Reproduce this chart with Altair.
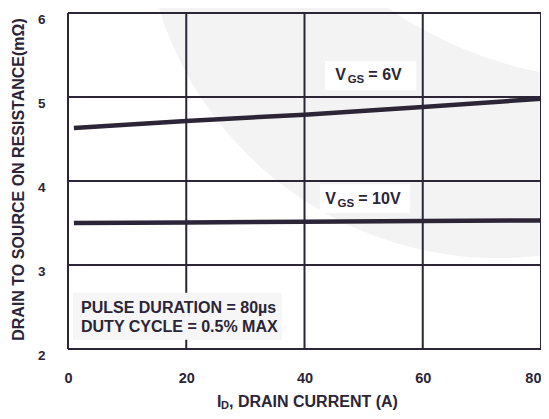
import altair as alt
import pandas as pd

# ---- data ----
current_a = [1, 20, 40, 60, 80]
rds_vgs6 = [4.63, 4.715, 4.79, 4.88, 4.98]
rds_vgs10 = [3.50, 3.505, 3.515, 3.525, 3.53]
x_ticks = [0, 20, 40, 60, 80]
y_ticks = [2, 3, 4, 5, 6]
y_title = "DRAIN TO SOURCE ON RESISTANCE(mΩ)"

INK = "#2b2537"
FONT = "Liberation Sans"
W, H = 473, 336

df = pd.DataFrame({
    "I": current_a + current_a,
    "R": rds_vgs6 + rds_vgs10,
    "s": ["6V"] * len(current_a) + ["10V"] * len(current_a),
})

xs = alt.Scale(domain=[0, 80], nice=False, zero=False)
ys = alt.Scale(domain=[2, 6], nice=False, zero=False)

one = pd.DataFrame({"a": [0]})

xaxis = alt.Axis(values=x_ticks, title=None, grid=False, domain=False, ticks=False,
                 tickSize=0, labelPadding=22, labelFont=FONT, labelFontSize=14.5,
                 labelFontWeight="bold", labelColor=INK, labelBaseline="top",
                 labelFlush=False, format="d", zindex=1,
                 labelAlign={"condition": {"test": "datum.value == 80", "value": "right"},
                             "value": "center"})
yaxis = alt.Axis(values=y_ticks, title=y_title, grid=False, domain=False, ticks=False,
                 tickSize=0, labelPadding=23, labelFont=FONT, labelFontSize=13.5,
                 labelFontWeight="bold", labelColor=INK, labelFlush=False, format="d",
                 labelBaseline="top", labelOffset=-1,
                 titleFont=FONT, titleFontSize=16, titleFontWeight="bold",
                 titleColor=INK, titleAngle=270, titleX=-50, titleY=166,
                 titleAlign="center", titleBaseline="middle", zindex=1)


def X(f):
    return alt.X(f, scale=xs, axis=xaxis, title=None)


def Y(f):
    return alt.Y(f, scale=ys, axis=yaxis, title=y_title)


# faint watermark crescent (grey disc, then white disc)
wm_grey = alt.Chart(one).mark_circle(size=710 * 710, color="#f3f3f4", opacity=1).encode(
    x=alt.value(430), y=alt.value(-110))
wm_white = alt.Chart(one).mark_circle(size=820 * 820, color="#ffffff", opacity=1).encode(
    x=alt.value(552), y=alt.value(-343))

grid_x = alt.Chart(pd.DataFrame({"v": x_ticks})).mark_rule(color=INK, strokeWidth=2).encode(
    x=X("v:Q"))
grid_y = alt.Chart(pd.DataFrame({"v": y_ticks})).mark_rule(color=INK, strokeWidth=2).encode(
    y=Y("v:Q"))

lines = alt.Chart(df).mark_line(color=INK, strokeWidth=4.5, strokeCap="butt").encode(
    x=X("I:Q"), y=Y("R:Q"), detail="s:N")

# annotation boxes (data coordinates)
boxes = pd.DataFrame({
    "x": [43.5, 42.6, 0.85],
    "x2": [58.9, 57.8, 36.2],
    "y": [5.43, 3.96, 2.67],
    "y2": [5.08, 3.62, 2.11],
    "fill": ["#ffffff", "#ffffff", "#f6f6f6"],
})
box_layer = alt.Chart(boxes).mark_rect().encode(
    x=X("x:Q"), x2="x2:Q", y=Y("y:Q"), y2="y2:Q",
    fill=alt.Fill("fill:N", scale=None))

main_txt = pd.DataFrame({
    "t": ["V", "= 6V", "V", "= 10V", "PULSE DURATION = 80µs", "DUTY CYCLE = 0.5% MAX"],
    "x": [45.2, 50.8, 43.5, 49.1, 2.2, 2.2],
    "y": [5.20, 5.20, 3.726, 3.726, 2.43, 2.205],
})
sub_txt = pd.DataFrame({
    "t": ["GS", "GS"],
    "x": [47.3, 45.6],
    "y": [5.165, 3.69],
})

t_main = alt.Chart(main_txt).mark_text(align="left", baseline="alphabetic", font=FONT,
                                       fontSize=16, fontWeight="bold", color=INK).encode(
    x=X("x:Q"), y=Y("y:Q"), text="t:N")
t_sub = alt.Chart(sub_txt).mark_text(align="left", baseline="alphabetic", font=FONT,
                                     fontSize=11.5, fontWeight="bold", color=INK).encode(
    x=X("x:Q"), y=Y("y:Q"), text="t:N")

# x-axis title with subscript
xt1 = alt.Chart(one).mark_text(align="left", baseline="alphabetic", font=FONT, fontSize=16,
                               fontWeight="bold", color=INK, text="I").encode(
    x=alt.value(149), y=alt.value(394))
xt2 = alt.Chart(one).mark_text(align="left", baseline="alphabetic", font=FONT, fontSize=11,
                               fontWeight="bold", color=INK, text="D").encode(
    x=alt.value(153), y=alt.value(396))
xt3 = alt.Chart(one).mark_text(align="left", baseline="alphabetic", font=FONT, fontSize=16,
                               fontWeight="bold", color=INK, text=", DRAIN CURRENT (A)").encode(
    x=alt.value(161), y=alt.value(394))

chart = alt.layer(
    wm_grey, wm_white, grid_x, grid_y, lines, box_layer, t_main, t_sub, xt1, xt2, xt3
).properties(
    width=W, height=H,
    autosize=alt.AutoSizeParams(type="none"),
    padding={"left": 60, "top": 5, "right": 0, "bottom": 62},
    background="#ffffff",
).configure_view(stroke=None)

chart.save("out.html", embed_options={"renderer": "svg", "actions": False})
